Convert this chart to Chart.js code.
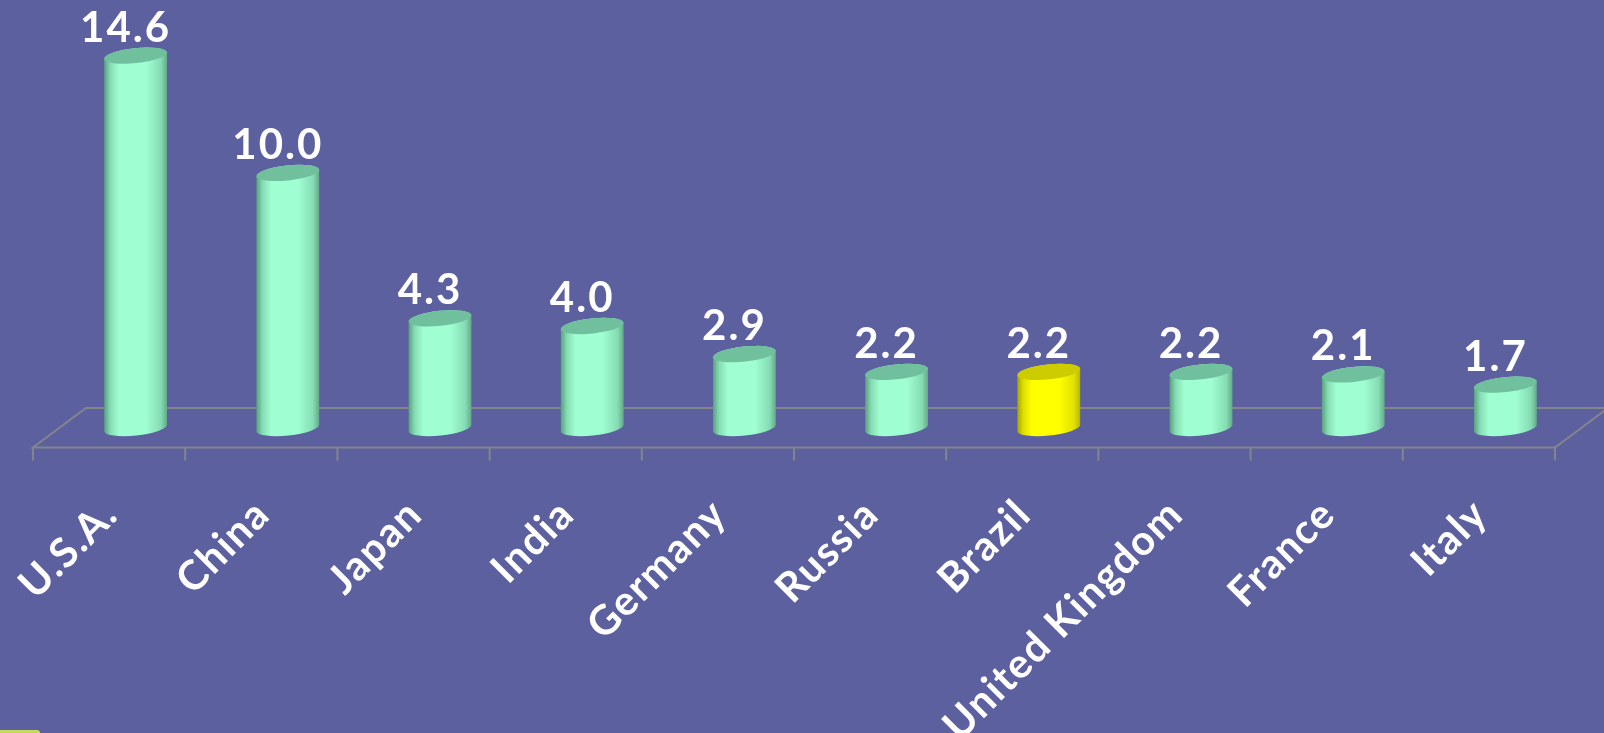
<!DOCTYPE html>
<html>
<head>
<meta charset="utf-8">
<script src="https://cdn.jsdelivr.net/npm/chart.js@4/dist/chart.umd.js"></script>
<style>
  html, body { margin: 0; padding: 0; background: #5c609f; overflow: hidden; }
  #wrap { position: relative; width: 1604px; height: 733px; }
  #corner { position: absolute; left: 0; top: 730px; width: 40px; height: 3px; background: #c8d860; border-radius: 0 3px 0 0; }
</style>
</head>
<body>
<div id="wrap">
  <canvas id="barChart" width="1604" height="733"></canvas>
  <div id="corner"></div>
</div>
<script>
const countries = ["U.S.A.", "China", "Japan", "India", "Germany", "Russia", "Brazil", "United Kingdom", "France", "Italy"];
const gdp = [14.6, 10.0, 4.3, 4.0, 2.9, 2.2, 2.2, 2.2, 2.1, 1.7];
const highlighted = "Brazil";

const FLOOR_DEPTH = 53;
const FLOOR_RISE = 39.6;
const FLOOR_GAP = 19.5;
const TICK_LEN = 13;
const AXIS_HEIGHT = 305;
const FONT = 'Lato, sans-serif';

// horizontal shading that makes a bar look round
function bodyShade(ctx, left, right, c) {
  const g = ctx.createLinearGradient(left, 0, right, 0);
  g.addColorStop(0, c.dark);
  g.addColorStop(0.1, c.mid);
  g.addColorStop(0.24, c.light);
  g.addColorStop(0.66, c.light);
  g.addColorStop(0.9, c.mid);
  g.addColorStop(1, c.edge);
  return g;
}

function drawCylinder(ctx, bar, yellow) {
  const rx = bar.width / 2;
  const ry = 7.5;
  const tilt = -6 * Math.PI / 180;
  const colors = yellow
    ? { dark: "#a4a400", mid: "#e0e000", light: "#ffff00", edge: "#b4b400", top: "#cccc00" }
    : { dark: "#55a07e", mid: "#86dcb4", light: "#a0ffd2", edge: "#62a888", top: "#70c09e" };

  ctx.save();
  ctx.beginPath();
  ctx.ellipse(bar.x, bar.y, rx, ry, tilt, Math.PI, 2 * Math.PI);
  ctx.ellipse(bar.x, bar.base, rx, ry, tilt, 0, Math.PI);
  ctx.closePath();
  ctx.fillStyle = bodyShade(ctx, bar.x - rx, bar.x + rx, colors);
  ctx.fill();

  ctx.beginPath();
  ctx.ellipse(bar.x, bar.y, rx, ry, tilt, 0, 2 * Math.PI);
  ctx.fillStyle = colors.top;
  ctx.fill();
  ctx.restore();
}

const floorPlugin = {
  id: "floor",
  beforeDraw(chart) {
    // tick labels pick this up, Chart.js has no option for it
    chart.ctx.letterSpacing = "1.5px";
  },
  beforeDatasetsDraw(chart) {
    const { ctx, scales: { x } } = chart;
    const step = x.getPixelForTick(1) - x.getPixelForTick(0);
    const frontY = x.top + FLOOR_GAP;
    const backY = frontY - FLOOR_RISE;
    const frontLeft = x.left - FLOOR_DEPTH / 2;
    const frontRight = x.right - FLOOR_DEPTH / 2;

    ctx.save();
    ctx.strokeStyle = "#84848c";
    ctx.lineWidth = 2;
    ctx.beginPath();
    ctx.moveTo(frontLeft, frontY);
    ctx.lineTo(frontRight, frontY);
    ctx.lineTo(frontRight + FLOOR_DEPTH, backY);
    ctx.lineTo(frontLeft + FLOOR_DEPTH, backY);
    ctx.closePath();
    for (let i = 0; i <= countries.length; i++) {
      ctx.moveTo(frontLeft + i * step, frontY);
      ctx.lineTo(frontLeft + i * step, frontY + TICK_LEN);
    }
    ctx.stroke();
    ctx.restore();
  }
};

const cylinderPlugin = {
  id: "cylinders",
  beforeDatasetDraw(chart, args) {
    const { ctx } = chart;
    args.meta.data.forEach((el, i) => {
      const bar = el.getProps(["x", "y", "base", "width"]);
      drawCylinder(ctx, bar, countries[i] === highlighted);
      ctx.save();
      ctx.fillStyle = "#ffffff";
      ctx.font = "700 42px " + FONT;
      ctx.letterSpacing = "2px";
      ctx.textAlign = "center";
      ctx.textBaseline = "alphabetic";
      ctx.fillText(gdp[i].toFixed(1), bar.x - 10, bar.y - 14);
      ctx.restore();
    });
    return false;
  }
};

new Chart(document.getElementById("barChart"), {
  type: "bar",
  data: {
    labels: countries,
    datasets: [{ data: gdp, barPercentage: 0.83, categoryPercentage: 0.5 }]
  },
  options: {
    responsive: false,
    animation: false,
    layout: { padding: { left: 59.5, right: 22.5, top: 0, bottom: 0 } },
    plugins: { legend: { display: false }, tooltip: { enabled: false } },
    scales: {
      y: { display: false, min: 0, max: 16.78 },
      x: {
        border: { display: false },
        grid: { display: false },
        afterFit(scale) {
          scale.height = AXIS_HEIGHT;
          scale.paddingLeft = 0;
          scale.paddingRight = 0;
        },
        ticks: {
          autoSkip: false,
          minRotation: 45,
          maxRotation: 45,
          padding: 54,
          labelOffset: -25,
          color: "#ffffff",
          font: { family: FONT, size: 41, weight: "700" }
        }
      }
    }
  },
  plugins: [floorPlugin, cylinderPlugin]
});
</script>
</body>
</html>
